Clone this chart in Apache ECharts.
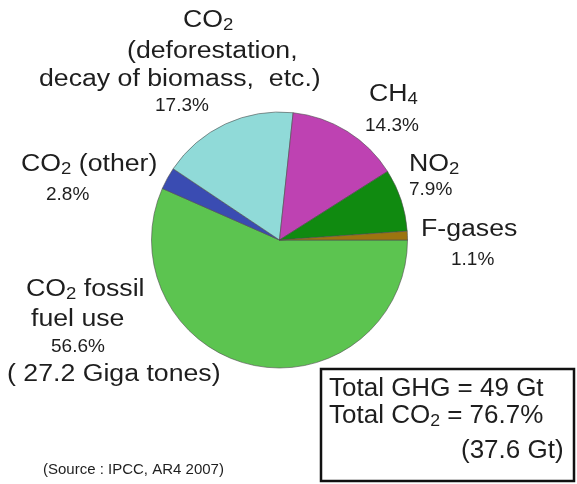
<!DOCTYPE html>
<html><head><meta charset="utf-8">
<script src="https://cdn.jsdelivr.net/npm/echarts@6/dist/echarts.min.js"></script>
<style>html,body{margin:0;padding:0;background:#fff}#c{width:577px;height:484px}</style>
</head><body><div id="c"></div>
<script>
// ---- data ----
const categories = ['CO2 fossil fuel use', 'CO2 (other)', 'CO2 (deforestation, decay of biomass, etc.)', 'CH4', 'NO2', 'F-gases'];
const shares = [56.6, 2.8, 17.3, 14.3, 7.9, 1.1];           // percent of total GHG
const labelLines = [
  ['CO_2 fossil', 'fuel use'],
  ['CO_2 (other)'],
  ['CO_2', '(deforestation,', 'decay of biomass,  etc.)'],
  ['CH_4'],
  ['NO_2'],
  ['F-gases']
];
const fossilNote = '( 27.2 Giga tones)';
const totalLines = ['Total GHG = 49 Gt', 'Total CO_2 = 76.7%', '(37.6 Gt)'];
const sourceText = '(Source : IPCC, AR4 2007)';

// ---- style ----
const palette = ['#5cc450', '#3a4cb2', '#90dad8', '#be42b2', '#108a10', '#9c7410'];
const FONT = '"Liberation Sans", Arial, Helvetica, sans-serif';
const INK = '#1e1e1e';
const kinds = {
  main: {fs: 23, sub: 16, lh: 26, sx: 1.16},
  pct:  {fs: 19, sub: 13, lh: 22, sx: 1.0},
  box:  {fs: 25, sub: 17, lh: 28, sx: 1.04},
  src:  {fs: 15, sub: 11, lh: 18, sx: 1.0}
};
function richStr(s) {
  return s.split(/_(\d)/).map((p, i) => p === '' ? '' : (i % 2 ? '{s|' + p + '}' : '{n|' + p + '}')).join('');
}
function txt(s, left, baseline, kind) {
  const k = kinds[kind];
  return {
    type: 'text', x: left, y: baseline - 0.35 * k.fs, scaleX: k.sx, silent: true,
    style: {
      text: richStr(s), align: 'left', verticalAlign: 'middle', fill: INK,
      fontFamily: FONT, fontSize: k.fs,
      rich: {
        n: {fontSize: k.fs, lineHeight: k.lh, fontFamily: FONT, fill: INK},
        s: {fontSize: k.sub, lineHeight: k.sub, verticalAlign: 'bottom', fontFamily: FONT, fill: INK}
      }
    }
  };
}
const pctText = i => shares[i].toFixed(1) + '%';

// label placement (left x, baseline y) per line
const graphics = [
  txt(labelLines[2][0], 183, 29, 'main'),
  txt(labelLines[2][1], 127, 60, 'main'),
  txt(labelLines[2][2], 39, 88, 'main'),
  txt(pctText(2), 155, 112, 'pct'),
  txt(labelLines[3][0], 369, 103, 'main'),
  txt(pctText(3), 365, 132.5, 'pct'),
  txt(labelLines[4][0], 409, 173, 'main'),
  txt(pctText(4), 409, 196.5, 'pct'),
  txt(labelLines[5][0], 421, 238, 'main'),
  txt(pctText(5), 451, 266.5, 'pct'),
  txt(labelLines[1][0], 21, 173, 'main'),
  txt(pctText(1), 46, 201.5, 'pct'),
  txt(labelLines[0][0], 26, 298, 'main'),
  txt(labelLines[0][1], 31, 328, 'main'),
  txt(pctText(0), 51, 353, 'pct'),
  txt(fossilNote, 7, 383, 'main'),
  {type: 'rect', silent: true, shape: {x: 321, y: 369, width: 253, height: 112},
   style: {fill: 'none', stroke: '#111', lineWidth: 2.5}},
  txt(totalLines[0], 329, 398, 'box'),
  txt(totalLines[1], 329, 425, 'box'),
  txt(totalLines[2], 461, 460, 'box'),
  txt(sourceText, 43, 475.5, 'src')
];

const chart = echarts.init(document.getElementById('c'), null, {renderer: 'canvas'});
chart.setOption({
  animation: false,
  backgroundColor: '#ffffff',
  color: palette,
  series: [{
    type: 'pie',
    center: [279.5, 240],
    radius: 128,
    startAngle: 0,
    clockwise: true,
    silent: true,
    label: {show: false},
    labelLine: {show: false},
    emphasis: {disabled: true},
    itemStyle: {borderColor: '#4d4d4d', borderWidth: 0.6},
    data: categories.map((c, i) => ({name: c, value: shares[i]}))
  }],
  graphic: graphics
});
</script>
</body></html>
